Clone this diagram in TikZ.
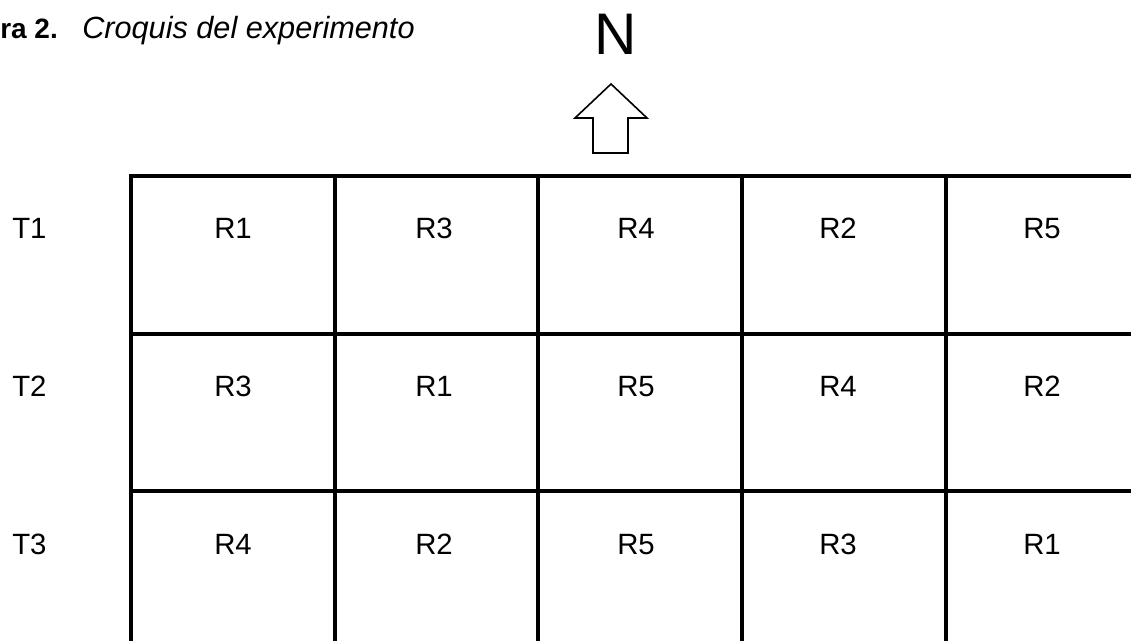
\documentclass[tikz,border=0pt]{standalone}
\usepackage{fontspec}
\setmainfont{Liberation Sans}
\begin{document}
\begin{tikzpicture}[x=0.75pt,y=-0.75pt,
  gridline/.style={line width=2.5pt, line cap=rect},
  lbl/.style={inner sep=0pt, anchor=base, font=\fontsize{22}{24}\selectfont},
  captxt/.style={inner sep=0pt}]
\useasboundingbox (0,0) rectangle (1131,641);
% caption
\node[captxt, anchor=base west, font=\fontsize{21}{24}\selectfont\bfseries] (fig) at (0,39) {ra 2.};
\node[captxt, anchor=base west, font=\fontsize{23}{26}\selectfont\itshape] (title) at (82,39) {Croquis del experimento};
% north
\node[inner sep=0pt, anchor=base, font=\fontsize{44}{46}\selectfont] (N) at (616,55) {N};
\draw[line width=1.2pt, line join=miter] (611,84) -- (647,118) -- (628,118) -- (628,153) -- (593,153) -- (593,118) -- (575,118) -- cycle;
% grid
\foreach \y in {176,334,491} \draw[gridline] (131,\y) -- (1140,\y);
\foreach \x in {131,335,538,742,946} \draw[gridline] (\x,176) -- (\x,660);
% row labels
\node[lbl, anchor=base west] (t1) at (12,239) {T1};
\node[lbl, anchor=base west] (t2) at (12,397) {T2};
\node[lbl, anchor=base west] (t3) at (12,554) {T3};
% cell labels
\node[lbl] (c11) at (233,239) {R1};
\node[lbl] (c12) at (434,239) {R3};
\node[lbl] (c13) at (636,239) {R4};
\node[lbl] (c14) at (838,239) {R2};
\node[lbl] (c15) at (1042,239) {R5};
\node[lbl] (c21) at (233,397) {R3};
\node[lbl] (c22) at (434,397) {R1};
\node[lbl] (c23) at (636,397) {R5};
\node[lbl] (c24) at (838,397) {R4};
\node[lbl] (c25) at (1042,397) {R2};
\node[lbl] (c31) at (233,554) {R4};
\node[lbl] (c32) at (434,554) {R2};
\node[lbl] (c33) at (636,554) {R5};
\node[lbl] (c34) at (838,554) {R3};
\node[lbl] (c35) at (1042,554) {R1};
\end{tikzpicture}
\end{document}
